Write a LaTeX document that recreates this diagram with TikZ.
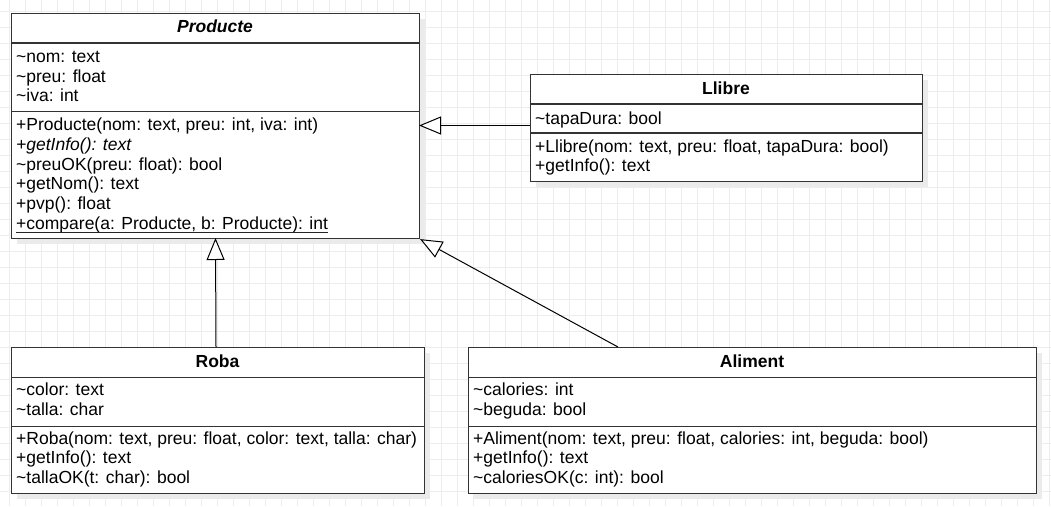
\documentclass[tikz,border=0pt]{standalone}
\usepackage{fontspec}
\setmainfont{Liberation Sans}
\usetikzlibrary{arrows.meta}
\begin{document}
\begin{tikzpicture}[x=1pt,y=-1pt,
  gridline/.style={draw=black!7, line width=1pt},
  shadowbox/.style={fill=black!8, draw=none},
  box/.style={draw=black!80, line width=1.1pt, fill=white, inner sep=0, anchor=north west},
  divider/.style={draw=black!80, line width=1.1pt},
  txt/.style={inner sep=0, anchor=base west, font=\fontsize{17.5}{20}\selectfont},
  ttl/.style={inner sep=0, anchor=base, font=\fontsize{17.5}{20}\selectfont\bfseries},
  inherit/.style={draw=black, line width=1pt, -{Triangle[open, length=22pt, width=18pt, fill=white]}}
]
\useasboundingbox (0,0) rectangle (1051,506);
\fill[white] (0,0) rectangle (1051,506);
\foreach \x in {9,25,...,1051} \draw[gridline] (\x,0) -- (\x,506);
\foreach \y in {11,27,...,506} \draw[gridline] (0,\y) -- (1051,\y);

% shadows
\fill[shadowbox] (17,19) rectangle (425,244);
\fill[shadowbox] (536,80) rectangle (928,187);
\fill[shadowbox] (17,353) rectangle (430,499);
\fill[shadowbox] (474,353) rectangle (1042,499);

% Producte
\node[box, minimum width=408pt, minimum height=225pt] (producte) at (11,13) {};
\draw[divider] (11,43) -- (419,43);
\draw[divider] (11,111.5) -- (419,111.5);
\node[ttl, font=\fontsize{17.5}{20}\selectfont\bfseries\itshape] (pt) at (215,32.5) {Producte};
\node[txt] (p1) at (16,62) {\textasciitilde nom: text};
\node[txt] (p2) at (16,82) {\textasciitilde preu: float};
\node[txt] (p3) at (16,101.7) {\textasciitilde iva: int};
\node[txt] (p4) at (16,130.5) {+Producte(nom: text, preu: int, iva: int)};
\node[txt] (p5) at (16,150.3) {\itshape +getInfo(): text};
\node[txt] (p6) at (16,170.1) {\textasciitilde preuOK(preu: float): bool};
\node[txt] (p7) at (16,189.9) {+getNom(): text};
\node[txt] (p8) at (16,209.7) {+pvp(): float};
\node[txt] (p9) at (16,229.5) {+compare(a: Producte, b: Producte): int};
\draw[black!85, line width=1pt] ([yshift=-2.8pt]p9.base west) -- ([yshift=-2.8pt]p9.base east);

% Llibre
\node[box, minimum width=392pt, minimum height=107pt] (llibre) at (530,74) {};
\draw[divider] (530,104) -- (922,104);
\draw[divider] (530,133) -- (922,133);
\node[ttl] (lt) at (726,94.5) {Llibre};
\node[txt] (l1) at (535,124) {\textasciitilde tapaDura: bool};
\node[txt] (l2) at (535,152) {+Llibre(nom: text, preu: float, tapaDura: bool)};
\node[txt] (l3) at (535,171.8) {+getInfo(): text};

% Roba
\node[box, minimum width=413pt, minimum height=146pt] (roba) at (11,347) {};
\draw[divider] (11,377.3) -- (424,377.3);
\draw[divider] (11,426.7) -- (424,426.7);
\node[ttl] (rt) at (217.5,367.7) {Roba};
\node[txt] (r1) at (16,395.7) {\textasciitilde color: text};
\node[txt] (r2) at (16,415.3) {\textasciitilde talla: char};
\node[txt] (r3) at (16,444.3) {+Roba(nom: text, preu: float, color: text, talla: char)};
\node[txt] (r4) at (16,463.8) {+getInfo(): text};
\node[txt] (r5) at (16,483.2) {\textasciitilde tallaOK(t: char): bool};

% Aliment
\node[box, minimum width=568pt, minimum height=146pt] (aliment) at (468,347) {};
\draw[divider] (468,377.3) -- (1036,377.3);
\draw[divider] (468,426.7) -- (1036,426.7);
\node[ttl] (at) at (752,367.7) {Aliment};
\node[txt] (a1) at (473,395.7) {\textasciitilde calories: int};
\node[txt] (a2) at (473,415.3) {\textasciitilde beguda: bool};
\node[txt] (a3) at (473,444.3) {+Aliment(nom: text, preu: float, calories: int, beguda: bool)};
\node[txt] (a4) at (473,463.8) {+getInfo(): text};
\node[txt] (a5) at (473,483.2) {\textasciitilde caloriesOK(c: int): bool};

% connectors
\coordinate (lstart) at (530,125.5);
\coordinate (lend) at (419,125.5);
\coordinate (rstart) at (216,347);
\coordinate (rend) at (215.5,238);
\coordinate (astart) at (618,347);
\draw[inherit] (lstart) -- (lend);
\draw[inherit] (rstart) -- (rend);
\draw[inherit] (astart) -- (producte.south east);
\end{tikzpicture}
\end{document}
